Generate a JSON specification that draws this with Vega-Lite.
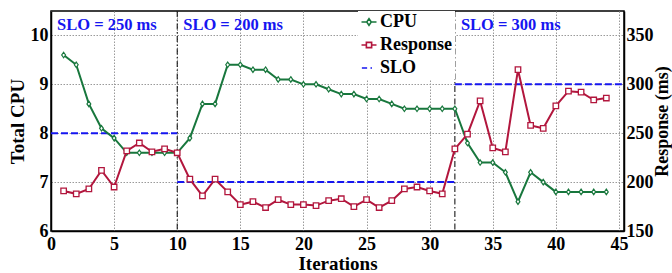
{
  "$schema": "https://vega.github.io/schema/vega-lite/v6.json",
  "autosize": {"type": "none"},
  "padding": {"left": 51, "top": 11, "right": 48, "bottom": 42},
  "width": 573,
  "height": 220,
  "background": "white",
  "config": {
    "font": "Liberation Serif",
    "view": {"stroke": "black", "strokeWidth": 1.5},
    "axis": {
      "labelFont": "Liberation Serif", "labelFontSize": 18, "labelFontWeight": "bold", "labelColor": "black",
      "titleFont": "Liberation Serif", "titleFontSize": 19, "titleFontWeight": "bold", "titleColor": "black",
      "domainColor": "black", "domainWidth": 1.5, "ticks": false, "labelFlush": false,
      "gridColor": "#9a9a9a", "gridDash": [1.5, 1.5], "gridWidth": 1
    }
  },
  "datasets": {
    "runs": [
      {"iter": 1, "cpu": 9.6, "resp": 191}, {"iter": 2, "cpu": 9.4, "resp": 188}, {"iter": 3, "cpu": 8.6, "resp": 193},
      {"iter": 4, "cpu": 8.1, "resp": 212}, {"iter": 5, "cpu": 7.9, "resp": 195}, {"iter": 6, "cpu": 7.6, "resp": 232},
      {"iter": 7, "cpu": 7.6, "resp": 240}, {"iter": 8, "cpu": 7.6, "resp": 231}, {"iter": 9, "cpu": 7.6, "resp": 234},
      {"iter": 10, "cpu": 7.6, "resp": 230}, {"iter": 11, "cpu": 7.9, "resp": 203}, {"iter": 12, "cpu": 8.6, "resp": 186},
      {"iter": 13, "cpu": 8.6, "resp": 203}, {"iter": 14, "cpu": 9.4, "resp": 190}, {"iter": 15, "cpu": 9.4, "resp": 177},
      {"iter": 16, "cpu": 9.3, "resp": 180}, {"iter": 17, "cpu": 9.3, "resp": 174}, {"iter": 18, "cpu": 9.1, "resp": 182},
      {"iter": 19, "cpu": 9.1, "resp": 177}, {"iter": 20, "cpu": 9.0, "resp": 177}, {"iter": 21, "cpu": 9.0, "resp": 176},
      {"iter": 22, "cpu": 8.9, "resp": 181}, {"iter": 23, "cpu": 8.8, "resp": 183}, {"iter": 24, "cpu": 8.8, "resp": 175},
      {"iter": 25, "cpu": 8.7, "resp": 182}, {"iter": 26, "cpu": 8.7, "resp": 174}, {"iter": 27, "cpu": 8.6, "resp": 181},
      {"iter": 28, "cpu": 8.5, "resp": 193}, {"iter": 29, "cpu": 8.5, "resp": 195}, {"iter": 30, "cpu": 8.5, "resp": 191},
      {"iter": 31, "cpu": 8.5, "resp": 188}, {"iter": 32, "cpu": 8.5, "resp": 234}, {"iter": 33, "cpu": 7.8, "resp": 249},
      {"iter": 34, "cpu": 7.4, "resp": 283}, {"iter": 35, "cpu": 7.4, "resp": 235}, {"iter": 36, "cpu": 7.2, "resp": 231},
      {"iter": 37, "cpu": 6.6, "resp": 315}, {"iter": 38, "cpu": 7.2, "resp": 258}, {"iter": 39, "cpu": 7.0, "resp": 255},
      {"iter": 40, "cpu": 6.8, "resp": 278}, {"iter": 41, "cpu": 6.8, "resp": 293}, {"iter": 42, "cpu": 6.8, "resp": 292},
      {"iter": 43, "cpu": 6.8, "resp": 284}, {"iter": 44, "cpu": 6.8, "resp": 286}
    ],
    "slo": [
      {"start": 0, "end": 10, "slo": 250, "label": "SLO = 250 ms"},
      {"start": 10, "end": 32, "slo": 200, "label": "SLO = 200 ms"},
      {"start": 32, "end": 45.4, "slo": 300, "label": "SLO = 300 ms"}
    ]
  },
  "layer": [
    {
      "data": {"name": "slo"},
      "transform": [{"filter": "datum.start > 0"}],
      "mark": {"type": "rule", "color": "black", "strokeWidth": 1, "strokeDash": [6, 2.5, 1.5, 2.5]},
      "encoding": {
        "x": {"field": "start", "type": "quantitative", "scale": {"domain": [0, 45.4], "nice": false, "zero": false},
              "axis": {"title": "Iterations", "values": [0, 5, 10, 15, 20, 25, 30, 35, 40, 45], "grid": true, "labelPadding": 4, "titlePadding": 1}}
      }
    },
    {
      "data": {"name": "slo"},
      "mark": {"type": "rule", "strokeWidth": 2, "strokeDash": [7, 3]},
      "encoding": {
        "x": {"field": "start", "type": "quantitative"},
        "x2": {"field": "end"},
        "y": {"field": "slo", "type": "quantitative", "scale": {"domain": [150, 375], "nice": false, "zero": false}, "axis": null},
        "color": {
          "datum": "SLO",
          "scale": {"domain": ["CPU", "Response", "SLO"], "range": ["#18773d", "#b2163d", "#1616f0"]},
          "legend": {
            "title": null, "orient": "none", "legendX": 307, "legendY": 0,
            "fillColor": "white", "padding": 2, "rowPadding": 5,
            "symbolSize": 225, "labelOffset": 2,
            "labelFont": "Liberation Serif", "labelFontSize": 18, "labelFontWeight": "bold", "labelColor": "black",
            "encode": {
              "symbols": {
                "update": {
                  "shape": {"signal": "datum.value === 'CPU' ? 'M-1,0H-0.3M0.3,0H1M0,-0.45L0.3,0L0,0.45L-0.3,0Z' : datum.value === 'Response' ? 'M-1,0H-0.35M0.35,0H1M-0.35,-0.35H0.35V0.35H-0.35Z' : 'M-0.95,0H-0.25M0.2,0H0.4'"},
                  "fill": {"value": "white"},
                  "strokeWidth": {"value": 1.6},
                  "strokeDash": {"value": []},
                  "opacity": {"value": 1}
                }
              }
            }
          }
        }
      }
    },
    {
      "data": {"name": "slo"},
      "mark": {"type": "text", "align": "left", "baseline": "alphabetic", "dx": 6, "dy": 19, "fontSize": 16.5, "fontWeight": "bold", "font": "Liberation Serif", "color": "#1616f0"},
      "encoding": {
        "x": {"field": "start", "type": "quantitative"},
        "y": {"datum": 10.5, "type": "quantitative", "scale": {"domain": [6, 10.5], "nice": false, "zero": false}, "axis": null},
        "text": {"field": "label"}
      }
    },
    {
      "data": {"name": "runs"},
      "mark": {"type": "line", "strokeWidth": 2,
               "point": {"filled": false, "fill": "white", "shape": "M0,-1L0.7,0L0,1L-0.7,0Z", "size": 30, "strokeWidth": 1.2}},
      "encoding": {
        "x": {"field": "iter", "type": "quantitative"},
        "y": {"field": "cpu", "type": "quantitative", "scale": {"domain": [6, 10.5], "nice": false, "zero": false},
              "axis": {"orient": "left", "title": "Total CPU", "values": [6, 7, 8, 9, 10], "grid": true, "labelPadding": 3, "titlePadding": 3}},
        "color": {"datum": "CPU"}
      }
    },
    {
      "data": {"name": "runs"},
      "mark": {"type": "line", "strokeWidth": 2,
               "point": {"filled": false, "fill": "white", "shape": "square", "size": 30, "strokeWidth": 1.3}},
      "encoding": {
        "x": {"field": "iter", "type": "quantitative"},
        "y": {"field": "resp", "type": "quantitative", "scale": {"domain": [150, 375], "nice": false, "zero": false},
              "axis": {"orient": "right", "title": "Response (ms)", "values": [150, 200, 250, 300, 350], "grid": false, "labelPadding": 2, "titlePadding": 0, "titleFontSize": 18, "titleAngle": 270, "titleBaseline": "top"}},
        "color": {"datum": "Response"}
      }
    }
  ],
  "resolve": {"scale": {"y": "independent"}, "axis": {"y": "independent"}}
}
